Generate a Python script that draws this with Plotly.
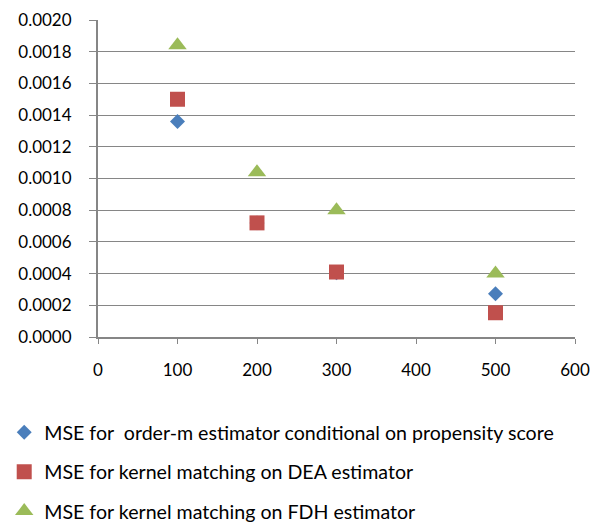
import plotly.graph_objects as go

x_vals = [100, 200, 300, 500]
mse_orderm = [0.00136, 0.00072, 0.000405, 0.000273]
mse_dea = [0.00150, 0.00072, 0.00041, 0.000153]
mse_fdh = [0.00184, 0.00104, 0.00080, 0.00040]
names = ["MSE for  order-m estimator conditional on propensity score",
         "MSE for kernel matching on DEA estimator",
         "MSE for kernel matching on FDH estimator"]
y_ticks = [i * 0.0002 for i in range(11)]

fig = go.Figure()
specs = [(mse_orderm, "diamond", "#4A7EBB", 11.5),
         (mse_dea, "square", "#C0504D", 15),
         (mse_fdh, "triangle-up", "#9BBB59", 16)]
for i, (vals, sym, col, sz) in enumerate(specs):
    fig.add_trace(go.Scatter(x=x_vals, y=vals, mode="markers", name=names[i].replace(" ", "\u00a0"),
                             legendgroup=f"g{i}",
                             marker=dict(symbol=sym, color=col, size=sz, line=dict(width=0))))

font = "Lato, 'Open Sans', sans-serif"
fig.update_layout(
    width=602, height=526,
    margin=dict(l=98, r=27, t=20, b=189, autoexpand=False),
    paper_bgcolor="white", plot_bgcolor="white",
    font=dict(family=font, size=17, color="black"),
    showlegend=True,
    legend=dict(xref="container", yref="container", x=0.007, y=0.215,
                xanchor="left", yanchor="top",
                traceorder="grouped", tracegroupgap=11,
                itemwidth=30, font=dict(size=19.6, family=font)),
)
fig.update_xaxes(range=[0, 600], dtick=100, tick0=0, showgrid=False,
                 showline=True, linecolor="#868686", linewidth=2,
                 ticks="outside", ticklen=5, tickcolor="#868686", tickwidth=1,
                 ticklabelstandoff=12, zeroline=False, tickfont=dict(size=17),
                 automargin=False)
fig.update_yaxes(range=[0, 0.002], tickvals=y_ticks, tickformat=".4f",
                 showgrid=True, gridcolor="#868686", gridwidth=1,
                 showline=True, linecolor="#868686", linewidth=2,
                 ticks="outside", ticklen=7, tickcolor="#868686", tickwidth=1,
                 ticklabelstandoff=14, zeroline=False, tickfont=dict(size=17),
                 automargin=False)
fig.write_html("out.html", config={"displayModeBar": False},
               post_script="document.body.style.margin='0';document.body.style.padding='0';")
